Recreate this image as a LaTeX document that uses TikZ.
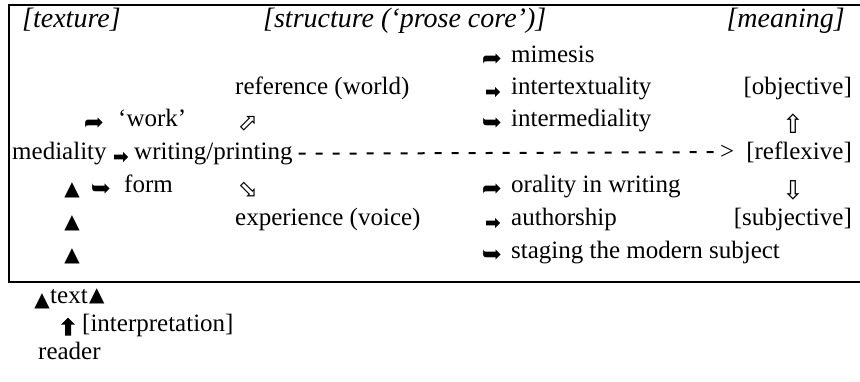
\documentclass[tikz,border=0pt]{standalone}
\usepackage{fontspec}
\usetikzlibrary{shapes.arrows}
\setmainfont{Liberation Serif}
\newfontfamily\symfont{DejaVu Sans}
\tikzset{
  txt/.style={inner sep=0pt, anchor=mid west, font=\fontsize{25}{29}\selectfont},
  hdr/.style={txt, font=\fontsize{28}{32}\selectfont\itshape},
  sym/.style={inner sep=0pt, anchor=center, font=\fontsize{24}{28}\selectfont\symfont},
  tall/.style={inner sep=0pt, anchor=center, font=\fontsize{26}{28}\selectfont\symfont},
  tri/.style={inner sep=0pt, anchor=center, font=\fontsize{20}{22}\selectfont\symfont},
  squat/.style={single arrow, fill=black, draw=none, inner sep=2.2pt,
    minimum height=14pt, single arrow head extend=2.6pt, anchor=center},
  fatup/.style={single arrow, fill=black, draw=none, inner sep=2.8pt,
    minimum height=18pt, single arrow head extend=4pt, shape border rotate=90, anchor=center},
  frameline/.style={line width=2pt},
  dashline/.style={line width=2pt, dash pattern=on 7pt off 10pt}
}
\begin{document}
\begin{tikzpicture}[x=1pt,y=-1pt]
\useasboundingbox (0,0) rectangle (860,381);
% frame
\draw[frameline] (860,5) -- (9,5) -- (9,282) -- (860,282);
% header
\node[hdr] (tex) at (22,25) {[texture]};
\node[hdr] (str) at (263,25) {[structure (‘prose core’)]};
\node[hdr, anchor=mid east] (mea) at (845,25) {[meaning]};
% row: mimesis
\node[sym] (a1) at (492,60) {➦};
\node[txt] (mim) at (511,60) {mimesis};
% row: reference
\node[txt] (ref) at (235,92) {reference (world)};
\node[squat] (a2) at (492,92) {};
\node[txt] (itx) at (511,92) {intertextuality};
\node[txt, anchor=mid east] (obj) at (852,92) {[objective]};
% row: work
\node[sym] (a3) at (94,124) {➦};
\node[txt] (wrk) at (118,124) {‘work’};
\node[sym] (ne) at (248,124) {⬀};
\node[sym] (a4) at (492,124) {➥};
\node[txt] (imd) at (511,124) {intermediality};
\node[tall] (up) at (793,124) {⇧};
% row: mediality
\node[txt] (med) at (12,157) {mediality};
\node[squat] (a5) at (120,157) {};
\node[txt] (wp) at (134,157) {writing/printing};
\node[txt] (gt) at (720,157) {>};
\node[txt, anchor=mid east] (rfl) at (852,157) {[reflexive]};
\draw[dashline] ([xshift=6pt]wp.east) -- ([xshift=-3pt]gt.west);
% row: form
\node[tri] (t1) at (72,190) {▲};
\node[sym] (a6) at (101,190) {➥};
\node[txt] (frm) at (124,190) {form};
\node[sym] (se) at (248,190) {⬂};
\node[sym] (a7) at (492,190) {➦};
\node[txt] (ora) at (511,190) {orality in writing};
\node[tall] (dn) at (793,190) {⇩};
% row: experience
\node[tri] (t2) at (72,223) {▲};
\node[txt] (exp) at (235,223) {experience (voice)};
\node[squat] (a8) at (492,223) {};
\node[txt] (aut) at (511,223) {authorship};
\node[txt, anchor=mid east] (sub) at (852,223) {[subjective]};
% row: staging
\node[tri] (t3) at (72,256) {▲};
\node[sym] (a9) at (492,256) {➥};
\node[txt] (stg) at (511,256) {staging the modern subject};
% below the frame
\node[tri] (t4) at (42,301) {▲};
\node[txt] (txt) at (50,301) {text};
\node[tri, anchor=west] (t5) at ([xshift=1pt]txt.east) {▲};
\node[fatup] (hu) at (68,328) {};
\node[txt] (int) at (82,329) {[interpretation]};
\node[txt] (rdr) at (38,357) {reader};
\end{tikzpicture}
\end{document}
